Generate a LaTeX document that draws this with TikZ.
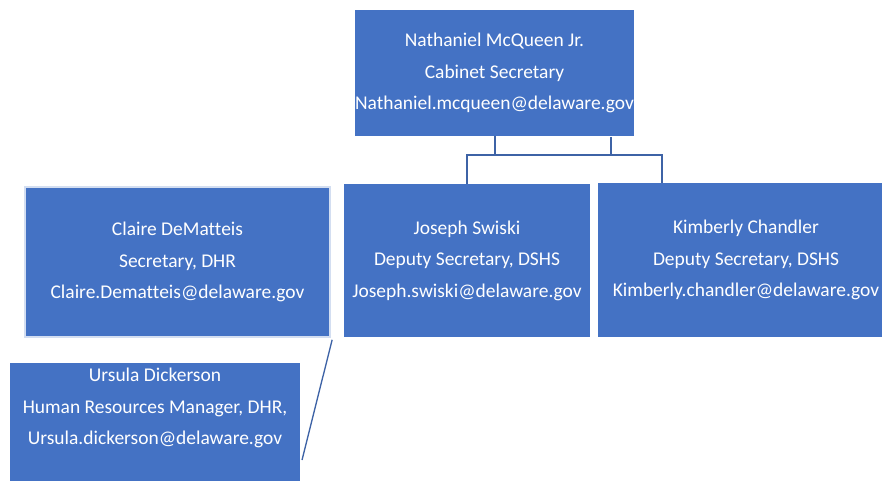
\documentclass[tikz,border=0pt]{standalone}
\usepackage{fontspec}
\setmainfont{Carlito}[Ligatures=NoCommon]
\usepackage{xcolor}
\definecolor{boxblue}{HTML}{4472C4}
\definecolor{lineblue}{HTML}{3E63A6}
\definecolor{rimblue}{HTML}{D3DEF1}
\tikzset{
  person/.style={fill=boxblue,draw=none,text=white,align=center,inner sep=0pt,
    font=\fontsize{14.6}{23.6}\selectfont},
  link/.style={draw=lineblue,line width=1.5pt}
}

\begin{document}
\begin{tikzpicture}[x=0.75pt,y=-0.75pt]
\useasboundingbox (0,0) rectangle (882,481);

% the boxes
\node[person,minimum width=209.25pt,minimum height=94.5pt] (ceo) at (494.5,73)
  {Nathaniel McQueen Jr.\\Cabinet Secretary\\Nathaniel.mcqueen@delaware.gov};
\node[person,minimum width=184.5pt,minimum height=114.75pt] (joseph) at (467,260.5)
  {Joseph Swiski\\Deputy Secretary, DSHS\\Joseph.swiski@delaware.gov};
\node[person,minimum width=222pt,minimum height=115.5pt] (kim) at (746,260)
  {Kimberly Chandler\\Deputy Secretary, DSHS\\Kimberly.chandler@delaware.gov};
\node[person,draw=rimblue,line width=1.2pt,minimum width=228.75pt,minimum height=112.5pt] (claire) at (177.5,262)
  {Claire DeMatteis\\Secretary, DHR\\Claire.Dematteis@delaware.gov};
\node[person,minimum width=217.5pt,minimum height=88.5pt] (ursula) at (155,422)
  {Ursula Dickerson\\Human Resources Manager, DHR,\\Ursula.dickerson@delaware.gov\\\mbox{}};

% connectors
\coordinate (bus) at (662,155);
\coordinate (tap) at (611,137);
\coordinate (tail) at (302,460);
\draw[link] (ceo.south) -- (ceo.south |- bus);
\draw[link] (tap) -- (tap |- bus);
\draw[link] (joseph.north) |- (bus) -- (bus |- kim.north);
\draw[draw=lineblue,line width=1pt] ([xshift=1pt,yshift=-1.5pt]claire.south east) -- (tail);

\end{tikzpicture}
\end{document}
